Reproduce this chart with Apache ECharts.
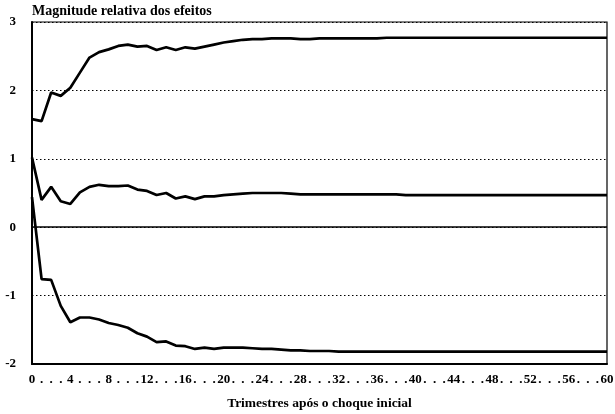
<!DOCTYPE html>
<html>
<head>
<meta charset="utf-8">
<script src="https://cdn.jsdelivr.net/npm/echarts@6/dist/echarts.min.js"></script>
<style>
html,body{margin:0;padding:0;background:#fff;}
#c{width:615px;height:414px;}
</style>
</head>
<body>
<div id="c"></div>
<script>
const xLabels = ['0','.','.','.','4','.','.','.','8','.','.','.','12','.','.','.','16','.','.','.','20','.','.','.','24','.','.','.','28','.','.','.','32','.','.','.','36','.','.','.','40','.','.','.','44','.','.','.','48','.','.','.','52','.','.','.','56','.','.','.','60'];
const yTicks = [-2,-1,0,1,2,3];
const upper = [1.58,1.55,1.97,1.92,2.04,2.26,2.48,2.56,2.60,2.65,2.67,2.64,2.65,2.59,2.63,2.59,2.63,2.61,2.64,2.67,2.70,2.72,2.74,2.75,2.75,2.76,2.76,2.76,2.75,2.75,2.76,2.76,2.76,2.76,2.76,2.76,2.76,2.77,2.77,2.77,2.77,2.77,2.77,2.77,2.77,2.77,2.77,2.77,2.77,2.77,2.77,2.77,2.77,2.77,2.77,2.77,2.77,2.77,2.77,2.77,2.77];
const middle = [1.02,0.40,0.59,0.38,0.34,0.51,0.59,0.62,0.60,0.60,0.61,0.55,0.53,0.47,0.50,0.42,0.45,0.41,0.45,0.45,0.47,0.48,0.49,0.50,0.50,0.50,0.50,0.49,0.48,0.48,0.48,0.48,0.48,0.48,0.48,0.48,0.48,0.48,0.48,0.47,0.47,0.47,0.47,0.47,0.47,0.47,0.47,0.47,0.47,0.47,0.47,0.47,0.47,0.47,0.47,0.47,0.47,0.47,0.47,0.47,0.47];
const lower = [0.44,-0.76,-0.77,-1.15,-1.39,-1.32,-1.32,-1.35,-1.40,-1.43,-1.47,-1.55,-1.60,-1.68,-1.67,-1.73,-1.74,-1.78,-1.76,-1.78,-1.76,-1.76,-1.76,-1.77,-1.78,-1.78,-1.79,-1.80,-1.80,-1.81,-1.81,-1.81,-1.82,-1.82,-1.82,-1.82,-1.82,-1.82,-1.82,-1.82,-1.82,-1.82,-1.82,-1.82,-1.82,-1.82,-1.82,-1.82,-1.82,-1.82,-1.82,-1.82,-1.82,-1.82,-1.82,-1.82,-1.82,-1.82,-1.82,-1.82,-1.82];
const titleText = 'Magnitude relativa dos efeitos';
const xTitle = 'Trimestres após o choque inicial';

const font = '"Liberation Serif", "DejaVu Serif", serif';
const chart = echarts.init(document.getElementById('c'), null, {renderer:'canvas'});
function mk(arr){ return arr.map((v,i)=>[i,v]); }
const lineStyle = {color:'#000', width:2.7};
chart.setOption({
  animation:false,
  backgroundColor:'#fff',
  title:{text:titleText, left:32, top:4, padding:0, textStyle:{fontFamily:font, fontWeight:'bold', fontSize:14, color:'#000'}},
  grid:{left:32, right:8, top:22, bottom:50, outerBoundsMode:'none', containLabel:false, show:true, borderColor:'#000', borderWidth:1.2, backgroundColor:'transparent'},
  xAxis:{type:'value', min:0, max:60, interval:1,
    name:xTitle, nameLocation:'middle', nameGap:33,
    nameTextStyle:{fontFamily:font, fontWeight:'bold', fontSize:13.5, color:'#000'},
    axisLine:{show:true, onZero:false, lineStyle:{color:'#000', width:2}},
    axisTick:{show:false}, splitLine:{show:false},
    axisLabel:{margin:9, fontFamily:font, fontWeight:'bold', fontSize:13, color:'#000', showMinLabel:true, showMaxLabel:true,
      formatter:(v)=>xLabels[Math.round(v)] || ''}
  },
  yAxis:{type:'value', min:yTicks[0], max:yTicks[yTicks.length-1], interval:1,
    axisLine:{show:true, onZero:false, lineStyle:{color:'#000', width:2}},
    axisTick:{show:false},
    splitLine:{show:true, lineStyle:{color:'#000', type:[1.5,2.5], width:1}},
    axisLabel:{margin:16, fontFamily:font, fontWeight:'bold', fontSize:13, color:'#000'}
  },
  series:[
    {type:'line', data:mk(upper), symbol:'none', lineStyle:lineStyle, z:3,
     markLine:{silent:true, symbol:'none', label:{show:false}, lineStyle:{color:'#000', type:'solid', width:1.5}, data:[{yAxis:0}]}},
    {type:'line', data:mk(middle), symbol:'none', lineStyle:lineStyle, z:3},
    {type:'line', data:mk(lower), symbol:'none', lineStyle:lineStyle, z:3}
  ]
});
</script>
</body>
</html>
